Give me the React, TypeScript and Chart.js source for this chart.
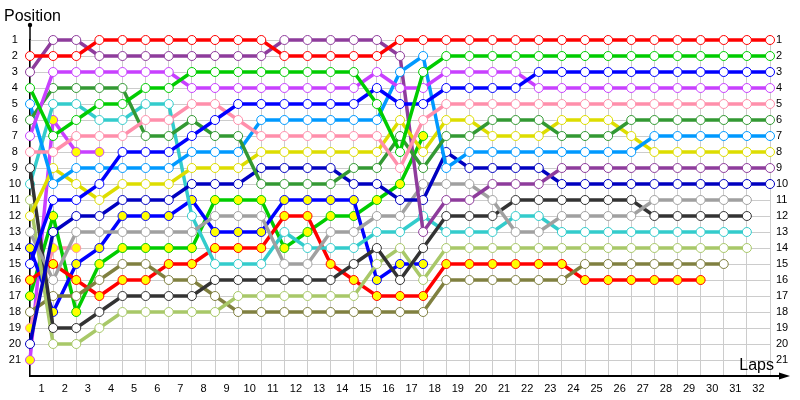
import { useEffect, useRef } from 'react';
import { Chart, registerables } from 'chart.js';

Chart.register(...registerables);

// Position of each driver at the end of each lap (index = lap, 0 = grid)
const red = [2, 2, 2, 1, 1, 1, 1, 1, 1, 1, 1, 2, 2, 2, 2, 2, 1, 1, 1, 1, 1, 1, 1, 1, 1, 1, 1, 1, 1, 1, 1, 1, 1];
const green = [4, 7, 6, 5, 5, 4, 4, 3, 3, 3, 3, 3, 3, 3, 3, 5, 8, 3, 2, 2, 2, 2, 2, 2, 2, 2, 2, 2, 2, 2, 2, 2, 2];
const blue = [15, 11, 11, 10, 8, 8, 8, 7, 6, 5, 5, 5, 5, 5, 5, 4, 5, 5, 4, 4, 4, 4, 3, 3, 3, 3, 3, 3, 3, 3, 3, 3, 3];
const magenta = [7, 3, 3, 3, 3, 3, 3, 4, 4, 4, 4, 4, 4, 4, 4, 3, 4, 4, 3, 3, 3, 3, 4, 4, 4, 4, 4, 4, 4, 4, 4, 4, 4];
const pink = [8, 8, 7, 7, 7, 6, 6, 5, 5, 6, 7, 7, 7, 7, 7, 7, 9, 6, 5, 5, 5, 5, 5, 5, 5, 5, 5, 5, 5, 5, 5, 5, 5];
const darkGreen = [6, 4, 4, 4, 4, 7, 7, 6, 7, 7, 10, 10, 10, 10, 9, 9, 7, 9, 7, 7, 6, 6, 6, 7, 7, 7, 6, 6, 6, 6, 6, 6, 6];
const lightBlue = [5, 10, 9, 9, 9, 9, 9, 8, 8, 8, 6, 6, 6, 6, 6, 6, 3, 2, 9, 8, 8, 8, 8, 8, 8, 8, 8, 7, 7, 7, 7, 7, 7];
const yellow = [12, 9, 10, 11, 10, 10, 10, 9, 9, 9, 8, 8, 8, 8, 8, 8, 6, 8, 6, 6, 7, 7, 7, 6, 6, 6, 7, 8, 8, 8, 8, 8, 8];
const purple = [3, 1, 1, 2, 2, 2, 2, 2, 2, 2, 2, 1, 1, 1, 1, 1, 2, 13, 11, 11, 10, 10, 10, 9, 9, 9, 9, 9, 9, 9, 9, 9, 9];
const navy = [20, 13, 12, 12, 11, 11, 11, 10, 10, 10, 9, 9, 9, 9, 10, 10, 11, 11, 8, 9, 9, 9, 9, 10, 10, 10, 10, 10, 10, 10, 10, 10, 10];
const gray = [13, 16, 13, 13, 13, 13, 13, 13, 12, 12, 12, 15, 15, 13, 13, 12, 12, 10, 10, 10, 11, 13, 13, 12, 12, 12, 12, 11, 11, 11, 11, 11];
const black = [9, 19, 19, 18, 17, 17, 17, 17, 16, 16, 16, 16, 16, 16, 15, 14, 16, 14, 12, 12, 12, 11, 11, 11, 11, 11, 11, 12, 12, 12, 12, 12];
const cyan = [10, 5, 5, 6, 6, 5, 5, 12, 15, 15, 15, 13, 14, 14, 14, 13, 13, 12, 13, 13, 13, 12, 12, 13, 13, 13, 13, 13, 13, 13, 13, 13];
const lightGreen = [11, 20, 20, 19, 18, 18, 18, 18, 18, 17, 17, 17, 17, 17, 17, 15, 14, 16, 14, 14, 14, 14, 14, 14, 14, 14, 14, 14, 14, 14, 14, 14];
const olive = [18, 17, 17, 16, 15, 15, 16, 16, 17, 18, 18, 18, 18, 18, 18, 18, 18, 18, 16, 16, 16, 16, 16, 16, 15, 15, 15, 15, 15, 15, 15];
const redB = [16, 15, 16, 17, 16, 16, 15, 15, 14, 14, 14, 12, 12, 15, 16, 17, 17, 17, 15, 15, 15, 15, 15, 15, 16, 16, 16, 16, 16, 16];
const blueB = [14, 18, 15, 14, 12, 12, 12, 11, 13, 13, 13, 11, 11, 11, 11, 16, 15, 15];
const greenB = [17, 12, 18, 15, 14, 14, 14, 14, 11, 11, 11, 14, 13, 12, 12, 11, 10, 7];
const pinkB = [19, 14, 14];
const magentaB = [21, 6, 8, 8];

const positionTicks = [1, 2, 3, 4, 5, 6, 7, 8, 9, 10, 11, 12, 13, 14, 15, 16, 17, 18, 19, 20, 21];
const lapLabels = ['1', '2', '3', '4', '5', '6', '7', '8', '9', '10', '11', '12', '13', '14', '15', '16',
  '17', '18', '19', '20', '21', '22', '23', '24', '25', '26', '27', '28', '29', '30', '31', '32'];

const series: { data: number[]; color: string; fill: string }[] = [
  { data: red, color: '#ff0000', fill: '#ffffff' },
  { data: green, color: '#00cc00', fill: '#ffffff' },
  { data: blue, color: '#0000ff', fill: '#ffffff' },
  { data: magenta, color: '#c840ff', fill: '#ffffff' },
  { data: pink, color: '#ff8fab', fill: '#ffffff' },
  { data: darkGreen, color: '#339933', fill: '#ffffff' },
  { data: lightBlue, color: '#0099ff', fill: '#ffffff' },
  { data: yellow, color: '#dddd00', fill: '#ffffff' },
  { data: purple, color: '#8e3c9c', fill: '#ffffff' },
  { data: navy, color: '#0000c0', fill: '#ffffff' },
  { data: gray, color: '#a0a0a0', fill: '#ffffff' },
  { data: black, color: '#333333', fill: '#ffffff' },
  { data: cyan, color: '#33cccc', fill: '#ffffff' },
  { data: lightGreen, color: '#a8c868', fill: '#ffffff' },
  { data: olive, color: '#808040', fill: '#ffffff' },
  { data: redB, color: '#ff0000', fill: '#ffff00' },
  { data: blueB, color: '#0000ff', fill: '#ffff00' },
  { data: greenB, color: '#00cc00', fill: '#ffff00' },
  { data: pinkB, color: '#ff8fab', fill: '#ffff00' },
  { data: magentaB, color: '#c840ff', fill: '#ffff00' },
];

const FONT = '"Liberation Sans", Arial, sans-serif';

const decor = {
  id: 'decor',
  afterDraw(chart: any) {
    const { ctx, chartArea } = chart;
    const { left, top, right, bottom } = chartArea;
    ctx.save();
    ctx.strokeStyle = '#000';
    ctx.fillStyle = '#000';
    ctx.lineWidth = 1.5;
    ctx.beginPath();
    ctx.moveTo(left, top);
    ctx.lineTo(left, 25);
    ctx.stroke();
    ctx.beginPath();
    ctx.arc(left, 25, 2.2, 0, Math.PI * 2);
    ctx.fill();
    ctx.lineWidth = 2;
    ctx.beginPath();
    ctx.moveTo(right, bottom);
    ctx.lineTo(782, bottom);
    ctx.stroke();
    ctx.beginPath();
    ctx.moveTo(790, bottom);
    ctx.lineTo(779, bottom - 3.5);
    ctx.lineTo(779, bottom + 3.5);
    ctx.closePath();
    ctx.fill();
    ctx.font = '16px ' + FONT;
    ctx.textBaseline = 'alphabetic';
    ctx.textAlign = 'left';
    ctx.fillText('Position', 4, 21);
    ctx.textAlign = 'right';
    ctx.fillText('Laps', 774, 370);
    ctx.restore();
  },
};

export default function App() {
  const ref = useRef<HTMLCanvasElement | null>(null);

  useEffect(() => {
    document.body.style.margin = '0';
    const canvas = ref.current;
    if (!canvas) return;

    const datasets = series.map((s) => ({
      data: s.data.map((p, lap) => ({ x: lap, y: p })),
      borderColor: s.color,
      backgroundColor: s.color,
      borderWidth: 3.5,
      pointRadius: 4.5,
      pointBorderWidth: 1,
      pointBorderColor: s.color,
      pointBackgroundColor: s.fill,
      tension: 0,
      clip: false as any,
    }));

    const yTicks = (axis: any) => {
      axis.ticks = positionTicks.map((v) => ({ value: v }));
    };

    const chart = new Chart(canvas, {
      type: 'line',
      data: { datasets },
      plugins: [decor],
      options: {
        animation: false,
        responsive: false,
        layout: { padding: { top: 40, left: 0, right: 0, bottom: 0 } },
        plugins: { legend: { display: false }, tooltip: { enabled: false } },
        scales: {
          x: {
            type: 'linear',
            min: 0,
            max: 32,
            afterBuildTicks: (axis: any) => {
              const t: any[] = [];
              for (let i = 0; i <= 32; i++) {
                t.push({ value: i });
                if (i < 32) t.push({ value: i + 0.5 });
              }
              axis.ticks = t;
            },
            afterFit: (axis: any) => {
              axis.height = 24;
            },
            ticks: {
              autoSkip: false,
              maxRotation: 0,
              padding: 6,
              color: '#000',
              font: { family: FONT, size: 11 },
              callback: (v: any) => {
                const n = Number(v);
                return Number.isInteger(n) ? '' : lapLabels[Math.round(n - 0.5)];
              },
            },
            grid: {
              drawTicks: false,
              color: (ctx: any) =>
                ctx.tick && Number.isInteger(ctx.tick.value) ? '#cccccc' : 'rgba(0,0,0,0)',
              lineWidth: 1,
            },
            border: { display: true, color: '#000', width: 2 },
          },
          y: {
            type: 'linear',
            position: 'left',
            min: 1,
            max: 22,
            reverse: true,
            afterBuildTicks: yTicks,
            afterFit: (axis: any) => {
              axis.width = 30;
            },
            ticks: {
              autoSkip: false,
              crossAlign: 'center',
              padding: 9,
              color: '#000',
              font: { family: FONT, size: 11 },
            },
            grid: { drawTicks: false, color: '#cccccc', lineWidth: 1 },
            border: { display: true, color: '#000', width: 1.5 },
          },
          y2: {
            type: 'linear',
            position: 'right',
            min: 1,
            max: 22,
            reverse: true,
            afterBuildTicks: yTicks,
            afterFit: (axis: any) => {
              axis.width = 30;
            },
            ticks: {
              autoSkip: false,
              padding: 6,
              color: '#000',
              font: { family: FONT, size: 11 },
            },
            grid: { display: false, drawTicks: false },
            border: { display: false },
          },
        },
      },
    });

    return () => chart.destroy();
  }, []);

  return (
    <div style={{ width: 800, height: 400 }}>
      <canvas ref={ref} width={800} height={400} />
    </div>
  );
}
